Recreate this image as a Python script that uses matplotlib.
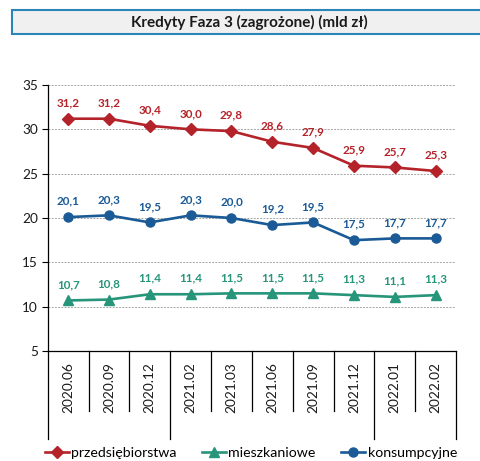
import matplotlib
matplotlib.use("Agg")
import matplotlib.pyplot as plt
from matplotlib.patches import Rectangle
from matplotlib.lines import Line2D
import matplotlib.transforms as mtransforms

plt.rcParams['font.family'] = ['Lato', 'DejaVu Sans']

categories = ["2020.06", "2020.09", "2020.12", "2021.02", "2021.03",
              "2021.06", "2021.09", "2021.12", "2022.01", "2022.02"]
group_sizes = [3, 5, 2]
przedsiebiorstwa = [31.2, 31.2, 30.4, 30.0, 29.8, 28.6, 27.9, 25.9, 25.7, 25.3]
mieszkaniowe = [10.7, 10.8, 11.4, 11.4, 11.5, 11.5, 11.5, 11.3, 11.1, 11.3]
konsumpcyjne = [20.1, 20.3, 19.5, 20.3, 20.0, 19.2, 19.5, 17.5, 17.7, 17.7]
title = "Kredyty Faza 3 (zagrożone) (mld zł)"
yticks = [5, 10, 15, 20, 25, 30, 35]

RED = "#b5232a"
GREEN = "#26957a"
BLUE = "#1a5a96"

W, H = 481, 461
fig = plt.figure(figsize=(W / 100, H / 100), dpi=100)

# title box
fig.patches.append(Rectangle((12 / W, 1 - 34 / H), 475 / W, 24 / H,
                             transform=fig.transFigure, facecolor="#f0f0f0",
                             edgecolor="#2a86b8", linewidth=1.5))
fig.text(249 / W, 1 - 22 / H, title, ha="center", va="center",
         fontsize=11, fontweight="bold", color="#1a1a1a")

left, right, top, bottom = 47.7, 456, 85, 351
ax = fig.add_axes([left / W, 1 - bottom / H, (right - left) / W, (bottom - top) / H])

x = list(range(len(categories)))
series = [
    (przedsiebiorstwa, RED, "D", 6.0, "przedsiębiorstwa"),
    (mieszkaniowe, GREEN, "^", 7.0, "mieszkaniowe"),
    (konsumpcyjne, BLUE, "o", 6.5, "konsumpcyjne"),
]
handles = []
for vals, col, mk, ms, lab in series:
    ln, = ax.plot(x, vals, color=col, marker=mk, markersize=ms, linewidth=1.9,
                  label=lab, zorder=3)
    handles.append(ln)
    for xi, v in zip(x, vals):
        ax.annotate(f"{v:.1f}".replace(".", ","), (xi, v), xytext=(0, 11.5),
                    textcoords="offset points", ha="center", va="center",
                    fontsize=8.4, fontweight="bold", color=col)

ax.set_xlim(-0.5, len(categories) - 0.5)
ax.set_ylim(5, 35)
ax.set_yticks(yticks)
ax.set_yticklabels([str(t) for t in yticks], fontsize=9.8, color="#1a1a1a")
ax.tick_params(axis="y", length=4, width=0.8, color="black", pad=3)
ax.set_xticks([])
for yt in yticks[1:]:
    ax.axhline(yt, color="#a6a6a6", linestyle=(0, (2, 1.3)), linewidth=0.7, zorder=1)

for s in ["top", "right"]:
    ax.spines[s].set_visible(False)
for s in ["left", "bottom"]:
    ax.spines[s].set_color("black")
    ax.spines[s].set_linewidth(0.9)

# multi-level category separators
trans = mtransforms.blended_transform_factory(ax.transData, ax.transAxes)
axh = bottom - top
long_pos = [-0.5]
acc = -0.5
for g in group_sizes:
    acc += g
    long_pos.append(acc)
for b in [i - 0.5 for i in range(len(categories) + 1)]:
    depth = 88 if any(abs(b - lp) < 1e-6 for lp in long_pos) else 60
    ax.plot([b, b], [0, -depth / axh], color="black", linewidth=0.9,
            transform=trans, clip_on=False)

for xi, c in zip(x, categories):
    ax.text(xi, -11 / axh, c, transform=trans, rotation=90, ha="center",
            va="top", fontsize=9.8, color="#1a1a1a")

fig.legend(handles=handles, loc="center", bbox_to_anchor=(251 / W, 1 - 453 / H),
           ncol=3, frameon=False, fontsize=10.2, handlelength=1.7,
           handletextpad=0.15, columnspacing=1.8, borderaxespad=0)

fig.savefig("out.png", dpi=100)
